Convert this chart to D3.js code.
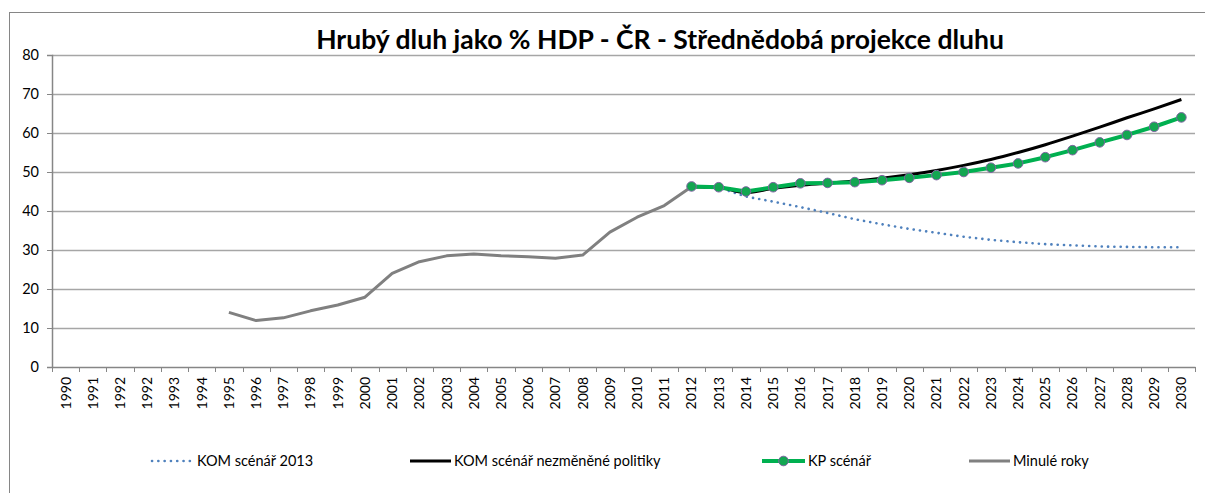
<!DOCTYPE html>
<html lang="cs">
<head>
<meta charset="UTF-8">
<title>Hrubý dluh jako % HDP</title>
<script src="https://d3js.org/d3.v7.min.js"></script>
<style>
  body { margin: 0; background: #fff; }
  text { font-family: Lato, "Open Sans", sans-serif; }
</style>
</head>
<body>
<script>
// category labels (the source chart repeats 1992)
const years = ["1990","1991","1992","1992","1993","1994","1995","1996","1997","1998","1999",
  "2000","2001","2002","2003","2004","2005","2006","2007","2008","2009","2010","2011",
  "2012","2013","2014","2015","2016","2017","2018","2019","2020","2021","2022","2023",
  "2024","2025","2026","2027","2028","2029","2030"];

// Minulé roky: 1995..2012
const pastStart = 6;
const pastValues = [14.0, 11.9, 12.6, 14.4, 15.9, 17.9, 24.0, 27.0, 28.5, 29.0, 28.5, 28.3,
  27.9, 28.7, 34.6, 38.4, 41.4, 46.2];

// projections: 2012..2030
const projStart = 23;
const kom2013 = [46.2, 46.0, 43.7, 42.4, 41.0, 39.5, 37.9, 36.6, 35.4, 34.4, 33.4, 32.6,
  32.0, 31.5, 31.2, 30.9, 30.8, 30.7, 30.7];
const komNoChange = [46.2, 46.0, 44.7, 45.8, 46.6, 47.1, 47.7, 48.4, 49.3, 50.4, 51.7, 53.2,
  55.0, 57.0, 59.2, 61.5, 63.9, 66.2, 68.6];
const kpScenario = [46.3, 46.1, 45.0, 46.1, 47.1, 47.2, 47.4, 47.9, 48.5, 49.2, 50.0, 51.1,
  52.2, 53.8, 55.6, 57.6, 59.5, 61.6, 64.0];

const yTicks = [0, 10, 20, 30, 40, 50, 60, 70, 80];

const W = 1205, H = 493;
const plot = { left: 52, right: 1195, top: 55, bottom: 367 };

const svg = d3.select("body").append("svg")
  .attr("width", W).attr("height", H);

// chart frame
svg.append("rect")
  .attr("x", 9.5).attr("y", 12.5)
  .attr("width", 1220).attr("height", 500)
  .attr("fill", "none").attr("stroke", "#868686");

const idx = d3.range(years.length);
const x = d3.scaleBand().domain(idx).range([plot.left, plot.right]);
const y = d3.scaleLinear().domain([0, 80]).range([plot.bottom, plot.top]);
const cx = i => x(i) + x.bandwidth() / 2;

// grid
svg.append("g").selectAll("line")
  .data(yTicks.filter(t => t > 0))
  .join("line")
    .attr("x1", plot.left).attr("x2", plot.right)
    .attr("y1", d => Math.round(y(d)) + 0.5).attr("y2", d => Math.round(y(d)) + 0.5)
    .attr("stroke", "#a6a6a6").attr("stroke-width", 1.3);

// y axis
const yAxis = svg.append("g")
  .attr("transform", `translate(${plot.left},0)`)
  .call(d3.axisLeft(y).tickValues(yTicks).tickSize(5).tickPadding(8));
yAxis.select(".domain").attr("stroke", "#868686").attr("stroke-width", 1.5);
yAxis.selectAll(".tick line").attr("stroke", "#868686");
yAxis.selectAll(".tick text")
  .attr("font-family", "Lato, sans-serif").attr("font-size", 14.5).attr("fill", "#000");

// x axis
const xAxis = svg.append("g")
  .attr("transform", `translate(0,${plot.bottom})`)
  .call(d3.axisBottom(x).tickFormat(i => years[i]).tickSize(0).tickPadding(0));
xAxis.select(".domain").attr("stroke", "#868686").attr("stroke-width", 1.5);
xAxis.selectAll(".tick text")
  .attr("font-family", "Lato, sans-serif").attr("font-size", 14).attr("fill", "#000")
  .attr("transform", "rotate(-90)")
  .attr("text-anchor", "end")
  .attr("x", -10).attr("y", 0).attr("dy", "0.35em");
// tick marks between categories
xAxis.append("g").selectAll("line")
  .data(d3.range(years.length + 1))
  .join("line")
    .attr("x1", i => Math.round(plot.left + i * x.step()) + 0.5)
    .attr("x2", i => Math.round(plot.left + i * x.step()) + 0.5)
    .attr("y1", 0).attr("y2", 5)
    .attr("stroke", "#868686");

const line = d3.line().x(d => cx(d.i)).y(d => y(d.v));
const toPts = (arr, start) => arr.map((v, k) => ({ i: start + k, v }));

svg.append("path")
  .datum(toPts(pastValues, pastStart))
  .attr("d", line).attr("fill", "none")
  .attr("stroke", "#808080").attr("stroke-width", 3).attr("stroke-linejoin", "round");

svg.append("path")
  .datum(toPts(kom2013, projStart))
  .attr("d", line).attr("fill", "none")
  .attr("stroke", "#4f81bd").attr("stroke-width", 2.6)
  .attr("stroke-linecap", "round").attr("stroke-dasharray", "0.1 6.2");

svg.append("path")
  .datum(toPts(komNoChange, projStart))
  .attr("d", d3.line().curve(d3.curveMonotoneX).x(d => cx(d.i)).y(d => y(d.v)))
  .attr("fill", "none").attr("stroke", "#000").attr("stroke-width", 3);

svg.append("path")
  .datum(toPts(kpScenario, projStart))
  .attr("d", line).attr("fill", "none")
  .attr("stroke", "#00b050").attr("stroke-width", 4).attr("stroke-linejoin", "round");

svg.append("g").selectAll("circle")
  .data(toPts(kpScenario, projStart))
  .join("circle")
    .attr("cx", d => cx(d.i)).attr("cy", d => y(d.v)).attr("r", 4.8)
    .attr("fill", "#13a651").attr("stroke", "#8064a2").attr("stroke-width", 1);

// title
svg.append("text")
  .attr("x", 660).attr("y", 49)
  .attr("text-anchor", "middle")
  .attr("font-size", 26.5).attr("font-weight", "bold")
  .text("Hrubý dluh jako % HDP - ČR - Střednědobá projekce dluhu");

// legend
const legend = [
  { name: "KOM scénář 2013", x0: 152, x1: 190, tx: 197, color: "#4f81bd", dash: "0.1 6.2", w: 2.6 },
  { name: "KOM scénář nezměněné politiky", x0: 410, x1: 451, tx: 454, color: "#000", dash: null, w: 3 },
  { name: "KP scénář", x0: 762, x1: 805, tx: 808, color: "#00b050", dash: null, w: 4, marker: true },
  { name: "Minulé roky", x0: 969, x1: 1010, tx: 1013, color: "#808080", dash: null, w: 3 }
];
const lg = svg.append("g").selectAll("g").data(legend).join("g");
lg.append("line")
  .attr("x1", d => d.x0).attr("x2", d => d.x1)
  .attr("y1", 461).attr("y2", 461)
  .attr("stroke", d => d.color).attr("stroke-width", d => d.w)
  .attr("stroke-linecap", d => d.dash ? "round" : "butt")
  .attr("stroke-dasharray", d => d.dash);
lg.filter(d => d.marker).append("circle")
  .attr("cx", d => (d.x0 + d.x1) / 2).attr("cy", 461).attr("r", 4.8)
  .attr("fill", "#13a651").attr("stroke", "#8064a2");
lg.append("text")
  .attr("x", d => d.tx).attr("y", 466)
  .attr("font-size", 14.5)
  .text(d => d.name);
</script>
</body>
</html>
